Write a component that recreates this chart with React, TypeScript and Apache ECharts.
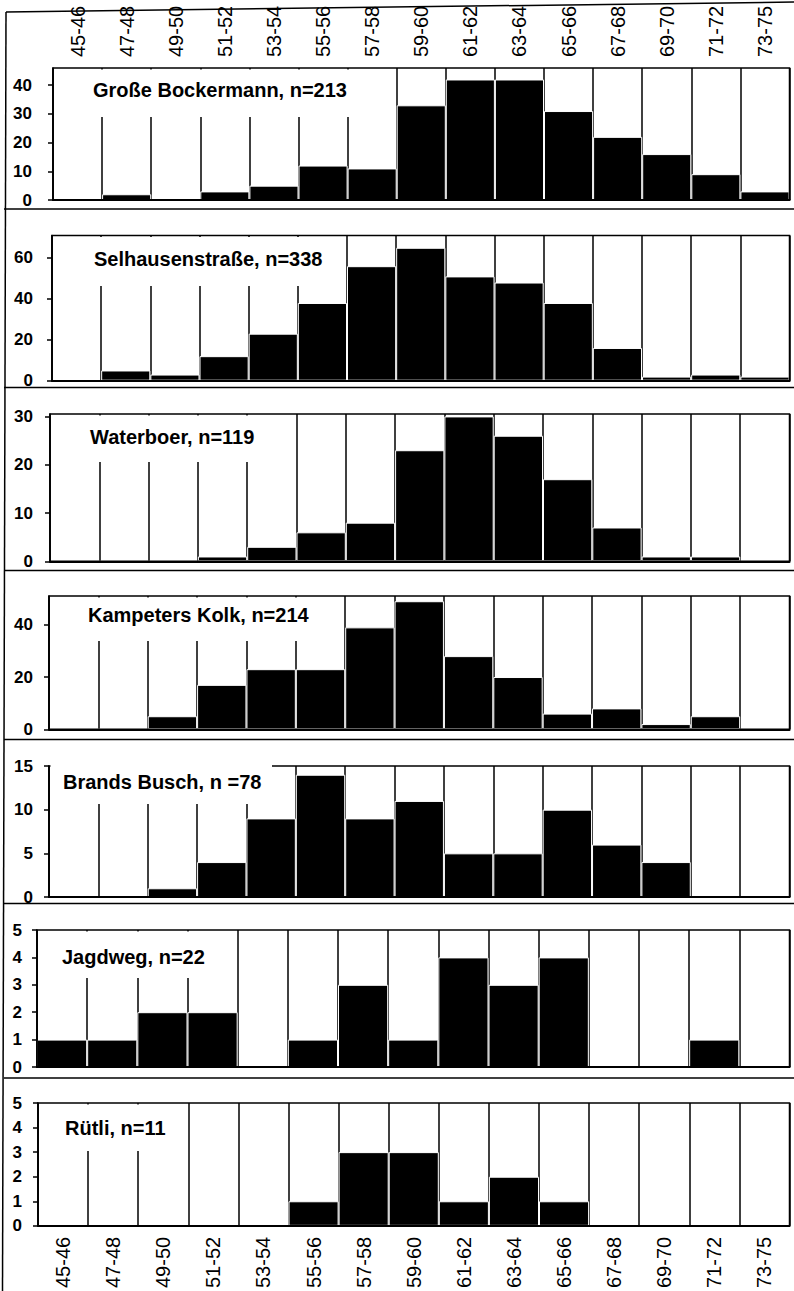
import React, { useEffect, useRef } from "react";
import * as echarts from "echarts";

// ---------- data ----------
const categories = [
  "45-46", "47-48", "49-50", "51-52", "53-54", "55-56", "57-58", "59-60",
  "61-62", "63-64", "65-66", "67-68", "69-70", "71-72", "73-75",
];

const siteTitles = [
  "Große Bockermann, n=213",
  "Selhausenstraße, n=338",
  "Waterboer, n=119",
  "Kampeters Kolk, n=214",
  "Brands Busch, n =78",
  "Jagdweg, n=22",
  "Rütli, n=11",
];

const grosseBockermann = [0, 2, 0, 3, 5, 12, 11, 33, 42, 42, 31, 22, 16, 9, 3];
const selhausenstrasse = [0, 5, 3, 12, 23, 38, 56, 65, 51, 48, 38, 16, 2, 3, 2];
const waterboer = [0, 0, 0, 1, 3, 6, 8, 23, 30, 26, 17, 7, 1, 1, 0];
const kampetersKolk = [0, 0, 5, 17, 23, 23, 39, 49, 28, 20, 6, 8, 2, 5, 0];
const brandsBusch = [0, 0, 1, 4, 9, 14, 9, 11, 5, 5, 10, 6, 4, 0, 0];
const jagdweg = [1, 1, 2, 2, 0, 1, 3, 1, 4, 3, 4, 0, 0, 1, 0];
const ruetli = [0, 0, 0, 0, 0, 1, 3, 3, 1, 2, 1, 0, 0, 0, 0];

const ticksGrosse = [0, 10, 20, 30, 40];
const ticksSelhausen = [0, 20, 40, 60];
const ticksWaterboer = [0, 10, 20, 30];
const ticksKampeters = [0, 20, 40];
const ticksBrands = [0, 5, 10, 15];
const ticksJagdweg = [0, 1, 2, 3, 4, 5];
const ticksRuetli = [0, 1, 2, 3, 4, 5];

const axisMax = [46, 71, 30.5, 51, 15, 5, 5];
const axisInterval = [10, 20, 10, 20, 5, 1, 1];

// ---------- layout (pixels) ----------
const RIGHT = 789.5;
const panels = [
  { left: 53, top: 68, height: 132, labelMargin: 21, box: [54.5, 69.5, 375, 117], text: [93, 90] },
  { left: 52, top: 235.5, height: 145.2, labelMargin: 19, box: [53.5, 237, 336, 286], text: [94, 259] },
  { left: 50, top: 414, height: 147.3, labelMargin: 17, box: [51.5, 415.5, 272, 462], text: [90, 437] },
  { left: 49, top: 596, height: 133.3, labelMargin: 16, box: [50.5, 597.5, 330, 641], text: [88, 615] },
  { left: 49, top: 766, height: 131, labelMargin: 16, box: [50.5, 763, 272, 804], text: [63, 782] },
  { left: 37, top: 930, height: 137, labelMargin: 15, box: [38.5, 931.5, 215, 978], text: [62, 957] },
  { left: 38, top: 1103, height: 129, labelMargin: 16, box: [39.5, 1104.5, 175, 1151], text: [65, 1128] },
];
const separators = [209, 387.5, 570.5, 739.5, 903.5, 1078];

const NARROW = "'Liberation Sans Narrow', 'Arial Narrow', 'Liberation Sans', Arial, sans-serif";
const SANS = "'Liberation Sans', Arial, sans-serif";

export default function App() {
  const ref = useRef<HTMLDivElement>(null);

  useEffect(() => {
    document.body.style.margin = "0";
    document.body.style.overflow = "hidden";
    if (!ref.current) return;
    const chart = echarts.init(ref.current, undefined, { renderer: "svg" });

    const seriesData = [grosseBockermann, selhausenstrasse, waterboer, kampetersKolk, brandsBusch, jagdweg, ruetli];
    const tickSets = [ticksGrosse, ticksSelhausen, ticksWaterboer, ticksKampeters, ticksBrands, ticksJagdweg, ticksRuetli];

    const grids: any[] = [];
    const xAxes: any[] = [];
    const yAxes: any[] = [];
    const series: any[] = [];
    const graphics: any[] = [];

    const catLabel = {
      show: true,
      rotate: 90,
      margin: 11,
      fontFamily: NARROW,
      fontSize: 20,
      color: "#000",
      interval: 0,
    };

    panels.forEach((p, i) => {
      grids.push({
        left: p.left,
        top: p.top,
        width: RIGHT - p.left,
        height: p.height,
        show: true,
        borderColor: "#000",
        borderWidth: 1.5,
        backgroundColor: "rgba(0,0,0,0)",
        z: 3,
      });
      const aIndex = xAxes.length;
      xAxes.push({
        type: "category",
        gridIndex: i,
        data: categories,
        position: "top",
        boundaryGap: true,
        axisLine: { show: false },
        axisTick: { show: false },
        axisLabel: i === 0 ? catLabel : { show: false },
        splitLine: { show: true, interval: 0, lineStyle: { color: "#000", width: 1.5 } },
        z: 0,
      });
      xAxes.push({
        type: "category",
        gridIndex: i,
        data: categories,
        position: "bottom",
        boundaryGap: true,
        axisLine: { show: true, onZero: false, lineStyle: { color: "#000", width: 2 } },
        axisTick: { show: false },
        axisLabel: i === panels.length - 1 ? catLabel : { show: false },
        splitLine: { show: false },
        z: 5,
      });
      const ticks = tickSets[i];
      const itv = axisInterval[i];
      yAxes.push({
        type: "value",
        gridIndex: i,
        min: 0,
        max: axisMax[i],
        interval: itv,
        axisLine: { show: true, lineStyle: { color: "#000", width: 1.5 } },
        axisTick: { show: true, length: 5, customValues: ticks, lineStyle: { color: "#000", width: 1.5 } },
        axisLabel: {
          customValues: ticks,
          formatter: (v: number) => (Math.abs(v / itv - Math.round(v / itv)) < 1e-6 ? String(v) : ""),
          fontFamily: SANS,
          fontWeight: "bold",
          fontSize: 17,
          color: "#000",
          margin: p.labelMargin,
        },
        splitLine: { show: false },
        z: 3,
      });
      series.push({
        type: "bar",
        name: siteTitles[i],
        xAxisIndex: aIndex,
        yAxisIndex: i,
        data: seriesData[i],
        barCategoryGap: "0%",
        itemStyle: { color: "#000", borderColor: "#fff", borderWidth: 1 },
        z: 2,
        silent: true,
      });
      const [bx1, by1, bx2, by2] = p.box;
      graphics.push({
        type: "rect",
        shape: { x: bx1, y: by1, width: bx2 - bx1, height: by2 - by1 },
        style: { fill: "#fff" },
        z: i === 4 ? 4 : 1,
        silent: true,
      });
      graphics.push({
        type: "text",
        x: p.text[0],
        y: p.text[1],
        style: {
          text: siteTitles[i],
          fontFamily: SANS,
          fontWeight: "bold",
          fontSize: 20,
          fill: "#000",
          verticalAlign: "middle",
          align: "left",
        },
        z: 6,
        silent: true,
      });
    });

    separators.forEach((y) => {
      graphics.push({
        type: "line",
        shape: { x1: 4, y1: y, x2: 794, y2: y },
        style: { stroke: "#000", lineWidth: 1.5 },
        z: 10,
        silent: true,
      });
    });
    graphics.push({
      type: "line",
      shape: { x1: 6, y1: 12, x2: 794, y2: 2 },
      style: { stroke: "#000", lineWidth: 1.5 },
      z: 10,
      silent: true,
    });
    graphics.push({
      type: "line",
      shape: { x1: 6, y1: 12, x2: 2.5, y2: 1291 },
      style: { stroke: "#000", lineWidth: 1.5 },
      z: 10,
      silent: true,
    });

    chart.setOption({
      animation: false,
      backgroundColor: "#fff",
      grid: grids,
      xAxis: xAxes,
      yAxis: yAxes,
      series,
      graphic: { elements: graphics },
    });

    return () => chart.dispose();
  }, []);

  return <div ref={ref} style={{ width: 794, height: 1291 }} />;
}
